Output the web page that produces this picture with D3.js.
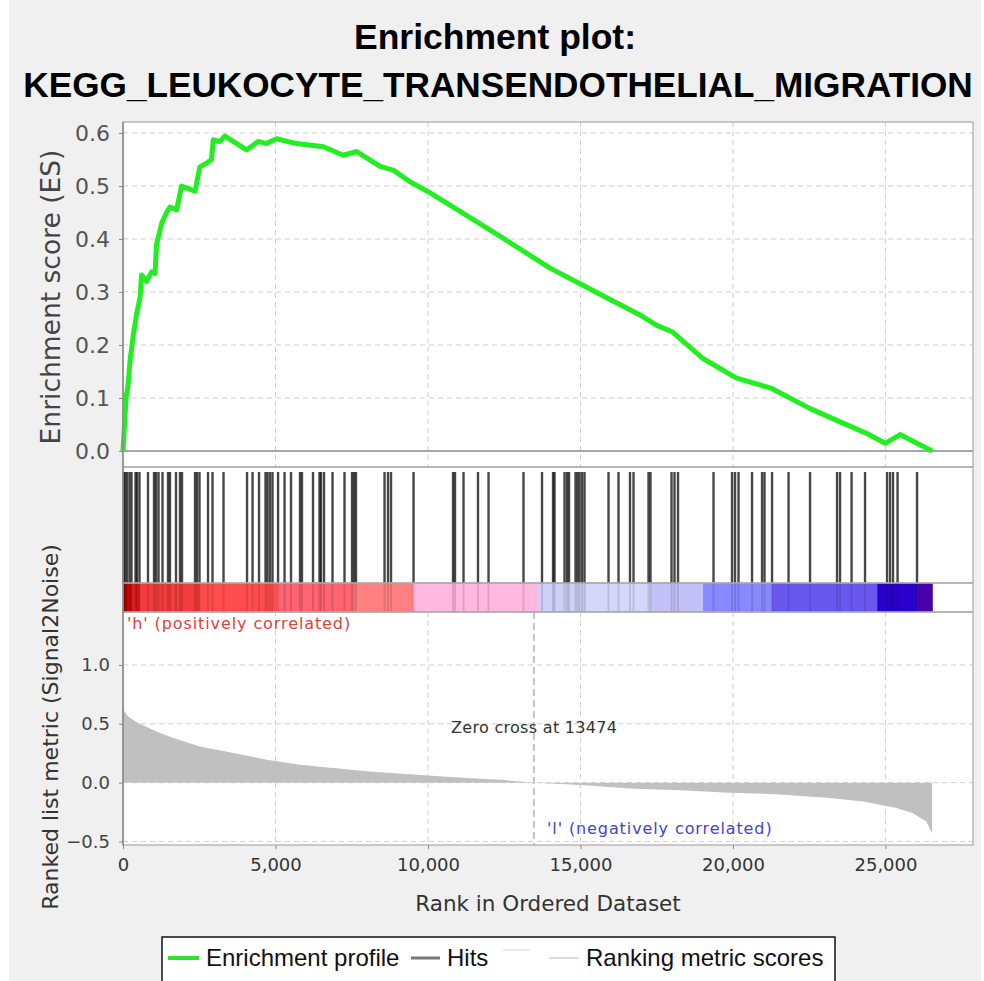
<!DOCTYPE html>
<html>
<head>
<meta charset="utf-8">
<script src="https://d3js.org/d3.v7.min.js"></script>
<style>
  body { margin: 0; background: #fff; }
  svg text { font-family: "DejaVu Sans", sans-serif; }
  .ax .domain { display: none; }
</style>
</head>
<body>
<svg id="svg"></svg>
<script>
  let width = 984;
  let height = 981;

  // running enrichment score
  let esRank = [0, 100, 175, 230, 340, 450, 560, 610, 770, 940, 1050, 1100, 1270, 1430, 1540, 1760,
    1920, 2140, 2360, 2520, 2740, 2900, 2960, 3180, 3340, 3610, 4050, 4430, 4700, 5030, 5690,
    6570, 7220, 7660, 8430, 8860, 9410, 10070, 11050, 12500, 14000, 15000, 16000, 17000, 17500,
    18000, 19000, 20100, 21270, 22530, 23510, 24390, 24990, 25480, 26030, 26530];
  let esValue = [0, 0.10, 0.128, 0.17, 0.22, 0.26, 0.29, 0.332, 0.32, 0.338, 0.335, 0.39, 0.43, 0.45, 0.46, 0.455,
    0.50, 0.495, 0.49, 0.536, 0.543, 0.55, 0.587, 0.584, 0.594, 0.584, 0.568, 0.584, 0.58, 0.589, 0.58,
    0.574, 0.558, 0.565, 0.537, 0.53, 0.508, 0.487, 0.452, 0.40, 0.345, 0.315, 0.285, 0.255, 0.237,
    0.225, 0.175, 0.138, 0.118, 0.08, 0.055, 0.033, 0.0145, 0.031, 0.0145, 0.0];

  // gene set members positions in the ranked list
  let hits = [16, 66, 131, 213, 279, 410, 459, 541, 820, 1017, 1082, 1164, 1295, 1476, 1541, 1738,
    1869, 1935, 2361, 2427, 2509, 2788, 2935, 3296, 4067, 4247, 4460, 4673, 4739, 4821, 4903, 5084,
    5297, 5509, 5804, 5869, 6230, 6443, 6493, 6591, 6870, 7263, 7509, 7575, 7640, 8575, 8689, 8788,
    9526, 10821, 10886, 11165, 11640, 11985, 13132, 13739, 14100, 14149, 14477, 14559, 14624, 14837,
    14903, 14968, 15050, 15132, 15919, 16247, 16624, 16739, 17231, 17296, 17985, 18083, 18198, 19362,
    19969, 20067, 20182, 20625, 20953, 21035, 21281, 21822, 22527, 23412, 23510, 23888, 24330, 25052,
    25150, 25248, 25396, 26035];

  // ranked list metric (Signal2Noise)
  let metricRank = [0, 60, 175, 500, 1100, 1650, 2520, 3620, 4710, 5800, 6890, 7990, 9630, 11270,
    12360, 13474, 15000, 16600, 18260, 19900, 21540, 23180, 24270, 25360, 25900, 26340, 26530];
  let metricValue = [0.647, 0.60, 0.56, 0.506, 0.435, 0.379, 0.308, 0.252, 0.195, 0.153, 0.125, 0.096,
    0.068, 0.04, 0.025, 0, -0.02, -0.05, -0.064, -0.085, -0.1, -0.13, -0.16, -0.215, -0.26, -0.33, -0.43];

  // heat bar segments: start rank, end rank, colour
  let barStart = [0, 120, 300, 560, 2520, 5050, 7540, 9510, 13620, 15200, 17300, 19020, 21280, 24730, 26040];
  let barEnd = [120, 300, 560, 2520, 5050, 7540, 9510, 13620, 15200, 17300, 19020, 21280, 24730, 26040, 26535];
  let barColor = ['#b00000', '#cc0a0a', '#e01c1c', '#f03c3c', '#ff4d4d', '#ff6472', '#ff8080', '#ffb8e0',
    '#d0d0f8', '#d6d6fb', '#c4c0f8', '#8888ff', '#6a58ee', '#2a00cc', '#4800a8'];

  let xTicks = [0, 5000, 10000, 15000, 20000, 25000];
  let esTicks = [0.0, 0.1, 0.2, 0.3, 0.4, 0.5, 0.6];
  let metricTicks = [-0.5, 0.0, 0.5, 1.0];
  let zeroCross = 13474;

  let svg = d3.select('#svg').attr('width', width).attr('height', height);

  svg.append('rect').attr('x', 9).attr('y', 0).attr('width', 972).attr('height', height).attr('fill', '#f0f0f0');

  // panels
  let left = 123, right = 973;
  let esTop = 122, esBot = 467, hitBot = 583, barBot = 612, mBot = 845;

  let x = d3.scaleLinear().domain([0, 27870]).range([left, right]);
  let yES = d3.scaleLinear().domain([-0.0302, 0.6207]).range([esBot, esTop]);
  let yM = d3.scaleLinear().domain([-0.53, 1.45]).range([mBot, barBot]);

  svg.append('rect').attr('x', left).attr('y', esTop).attr('width', right - left).attr('height', mBot - esTop).attr('fill', '#fff');

  function grid(y0, y1, ys, yScale) {
    let g = svg.append('g').attr('stroke', '#cfcfcf').attr('stroke-dasharray', '5,4').attr('stroke-width', 1);
    xTicks.slice(1).forEach(function (t) {
      g.append('line').attr('x1', x(t)).attr('x2', x(t)).attr('y1', y0).attr('y2', y1);
    });
    ys.forEach(function (t) {
      g.append('line').attr('x1', left).attr('x2', right).attr('y1', yScale(t)).attr('y2', yScale(t));
    });
  }
  grid(esTop, esBot, esTicks.slice(1), yES);
  grid(barBot, mBot, metricTicks, yM);

  // ES zero line
  svg.append('line').attr('x1', left).attr('x2', right).attr('y1', yES(0)).attr('y2', yES(0))
    .attr('stroke', '#8a8a8a').attr('stroke-width', 1.5);

  // ES curve
  let esData = esRank.map(function (r, i) { return [r, esValue[i]]; });
  svg.append('path').datum(esData)
    .attr('d', d3.line().x(function (d) { return x(d[0]); }).y(function (d) { return yES(d[1]); }))
    .attr('fill', 'none').attr('stroke', '#22ee22').attr('stroke-width', 5).attr('stroke-linejoin', 'round');

  // hits
  svg.append('g').selectAll('line').data(hits).enter().append('line')
    .attr('x1', function (d) { return x(d); }).attr('x2', function (d) { return x(d); })
    .attr('y1', esBot + 5).attr('y2', hitBot)
    .attr('stroke', '#000').attr('stroke-opacity', 0.72).attr('stroke-width', 2.4);

  // heat bar
  svg.append('g').selectAll('rect').data(barColor).enter().append('rect')
    .attr('x', function (d, i) { return x(barStart[i]); })
    .attr('width', function (d, i) { return x(barEnd[i]) - x(barStart[i]) + 0.5; })
    .attr('y', hitBot).attr('height', barBot - hitBot)
    .attr('fill', function (d) { return d; });
  svg.append('g').selectAll('line').data(hits).enter().append('line')
    .attr('x1', function (d) { return x(d); }).attr('x2', function (d) { return x(d); })
    .attr('y1', hitBot).attr('y2', barBot)
    .attr('stroke', '#000').attr('stroke-opacity', 0.12).attr('stroke-width', 2);

  // metric area
  let mData = metricRank.map(function (r, i) { return [r, metricValue[i]]; });
  svg.append('path').datum(mData)
    .attr('d', d3.area().x(function (d) { return x(d[0]); }).y0(yM(0)).y1(function (d) { return yM(d[1]); }))
    .attr('fill', '#c0c0c0');

  // zero cross marker
  svg.append('line').attr('x1', x(zeroCross)).attr('x2', x(zeroCross)).attr('y1', barBot).attr('y2', mBot)
    .attr('stroke', '#a0a0a0').attr('stroke-dasharray', '7,4').attr('stroke-width', 1.2);

  // borders
  let bc = '#a8a8a8';
  [[esTop, esBot], [esBot, hitBot], [hitBot, barBot], [barBot, mBot]].forEach(function (p) {
    svg.append('rect').attr('x', left).attr('y', p[0]).attr('width', right - left).attr('height', p[1] - p[0])
      .attr('fill', 'none').attr('stroke', bc).attr('stroke-width', 1.2);
  });
  svg.append('line').attr('x1', left).attr('x2', left).attr('y1', esTop).attr('y2', mBot)
    .attr('stroke', '#888').attr('stroke-width', 1.5);

  // axes
  let ayES = svg.append('g').attr('class', 'ax').attr('transform', 'translate(' + left + ',0)')
    .call(d3.axisLeft(yES).tickValues(esTicks).tickFormat(d3.format('.1f')).tickSize(4).tickPadding(9));
  ayES.selectAll('text').attr('font-size', 22).attr('fill', '#555');
  ayES.selectAll('line').attr('stroke', '#888');

  let ayM = svg.append('g').attr('class', 'ax').attr('transform', 'translate(' + left + ',0)')
    .call(d3.axisLeft(yM).tickValues(metricTicks).tickFormat(d3.format('.1f')).tickSize(4).tickPadding(9));
  ayM.selectAll('text').attr('font-size', 18).attr('fill', '#444');
  ayM.selectAll('line').attr('stroke', '#888');

  let ax = svg.append('g').attr('class', 'ax').attr('transform', 'translate(0,' + mBot + ')')
    .call(d3.axisBottom(x).tickValues(xTicks).tickFormat(d3.format(',')).tickSize(4).tickPadding(9));
  ax.selectAll('text').attr('font-size', 18).attr('fill', '#333');
  ax.selectAll('line').attr('stroke', '#888');

  // titles
  let tf = '"Liberation Sans", Arial, sans-serif';
  let title = svg.append('g').attr('font-weight', 'bold').attr('text-anchor', 'middle').attr('fill', '#000');
  title.append('text').attr('x', 495).attr('y', 49).attr('font-size', 35.5)
    .style('font-family', tf).text('Enrichment plot:');
  title.append('text').attr('x', 498).attr('y', 97).attr('font-size', 35.2)
    .style('font-family', tf).text('KEGG_LEUKOCYTE_TRANSENDOTHELIAL_MIGRATION');

  svg.append('text').attr('transform', 'translate(60,297) rotate(-90)').attr('text-anchor', 'middle')
    .attr('font-size', 26.5).attr('fill', '#444').text('Enrichment score (ES)');
  svg.append('text').attr('transform', 'translate(58,727) rotate(-90)').attr('text-anchor', 'middle')
    .attr('font-size', 22).attr('fill', '#333').text('Ranked list metric (Signal2Noise)');
  svg.append('text').attr('x', 548).attr('y', 911).attr('text-anchor', 'middle')
    .attr('font-size', 21.5).attr('fill', '#333').text('Rank in Ordered Dataset');

  // annotations
  svg.append('text').attr('x', 127).attr('y', 629).attr('font-size', 16).attr('letter-spacing', 0.9)
    .attr('fill', '#e04040').text("'h' (positively correlated)");
  svg.append('text').attr('x', 547).attr('y', 834).attr('font-size', 16).attr('letter-spacing', 0.9)
    .attr('fill', '#4444cc').text("'l' (negatively correlated)");
  svg.append('text').attr('x', 451).attr('y', 733).attr('font-size', 16).attr('letter-spacing', 0.3)
    .attr('fill', '#333').text('Zero cross at ' + zeroCross);

  // legend
  let lg = svg.append('g');
  lg.append('rect').attr('x', 162).attr('y', 937).attr('width', 673).attr('height', 60)
    .attr('fill', '#fff').attr('stroke', '#111').attr('stroke-width', 1.5);
  lg.append('line').attr('x1', 168).attr('x2', 199).attr('y1', 958).attr('y2', 958)
    .attr('stroke', '#33dd33').attr('stroke-width', 4);
  lg.append('text').attr('x', 206).attr('y', 966).attr('font-size', 24).style('font-family', tf)
    .attr('fill', '#111').text('Enrichment profile');
  lg.append('line').attr('x1', 411).attr('x2', 440).attr('y1', 958).attr('y2', 958)
    .attr('stroke', '#777').attr('stroke-width', 3);
  lg.append('text').attr('x', 447).attr('y', 966).attr('font-size', 24).style('font-family', tf)
    .attr('fill', '#111').text('Hits');
  lg.append('line').attr('x1', 503).attr('x2', 530).attr('y1', 950).attr('y2', 950)
    .attr('stroke', '#e4e4e4').attr('stroke-width', 1.5);
  lg.append('line').attr('x1', 549).attr('x2', 579).attr('y1', 958).attr('y2', 958)
    .attr('stroke', '#dcdcdc').attr('stroke-width', 2);
  lg.append('text').attr('x', 586).attr('y', 966).attr('font-size', 24).style('font-family', tf)
    .attr('fill', '#111').text('Ranking metric scores');
</script>
</body>
</html>
